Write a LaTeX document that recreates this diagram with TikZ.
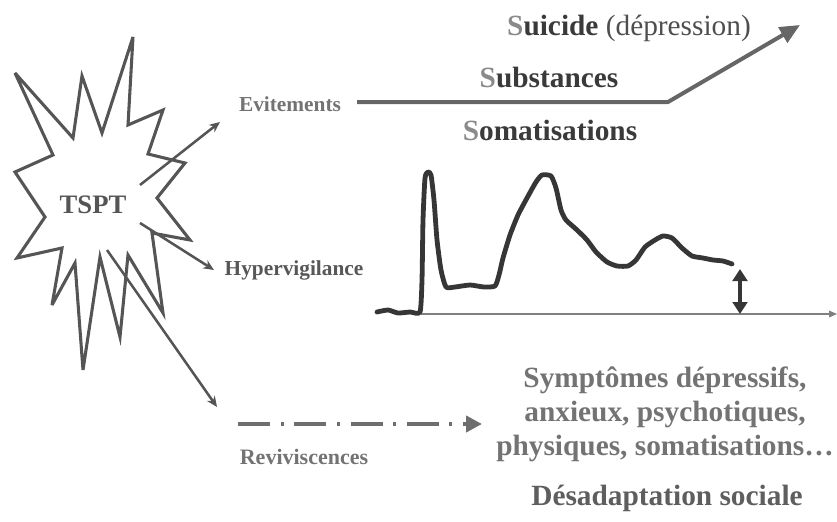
\documentclass[tikz,border=0pt]{standalone}
\usepackage{fontspec}
\setmainfont{Liberation Serif}
\usetikzlibrary{arrows.meta}

\definecolor{trait}{HTML}{555555}
\definecolor{courbe}{HTML}{363636}
\definecolor{txtfonce}{HTML}{3A3A3A}
\definecolor{txtgris}{HTML}{5E5E5E}
\definecolor{txtclair}{HTML}{737373}
\definecolor{sclair}{HTML}{8A8A8A}

\tikzset{
  burst/.style={draw=trait, line width=2.3pt, line join=miter, miter limit=6},
  fleche/.style={draw=trait, line width=1.9pt, -{Stealth[length=8pt,width=7pt]}},
  grosse/.style={draw=trait!90!white, line width=3pt, line join=round, -{Triangle[length=15pt,width=13pt]}},
  tiret/.style={draw=trait!85!white, line width=3pt, dash pattern=on 24pt off 8pt on 2.2pt off 8pt, -{Triangle[length=12pt,width=12pt]}},
  axe/.style={draw=gray, line width=0.8pt, -{Triangle[length=6pt,width=5pt]}},
  dbl/.style={draw=courbe, line width=2.3pt, {Triangle[length=9pt,width=11pt]}-{Triangle[length=9pt,width=11pt]}},
  lbl/.style={inner sep=0pt, text=txtgris, font=\fontsize{16}{19}\selectfont\bfseries},
  gros/.style={inner sep=0pt, text=txtfonce, font=\fontsize{22}{26}\selectfont\bfseries},
}

\begin{document}
\begin{tikzpicture}[x=0.75pt,y=-0.75pt]
  \useasboundingbox (0,0) rectangle (837,521);

  % explosion
  \draw[burst] (15,73) -- (73,138) -- (82,76) -- (102,133) -- (133,37) -- (128,125)
    -- (163,110) -- (148,154) -- (185,163) -- (157,198) -- (190,240) -- (152,233)
    -- (163,313) -- (128,255) -- (120,337) -- (100,257) -- (83,370) -- (75,263)
    -- (52,305) -- (62,248) -- (17,258) -- (45,217) -- (15,172) -- (53,155) -- cycle;
  \node (tspt) at (93,205) [inner sep=0pt, text=trait, font=\fontsize{20}{24}\selectfont\bfseries] {TSPT};

  % libelles
  \node[lbl, text=txtclair] (evit) at (290,104) {Evitements};
  \node[lbl, text=txtfonce!85!white] (hyper) at (294,270) {Hypervigilance};
  \node[lbl, text=txtclair, font=\fontsize{16.5}{19}\selectfont\bfseries] (revi) at (304,457) {Reviviscences};

  % fleches depuis TSPT
  \coordinate (de) at (140,185);
  \coordinate (dh) at (140,223);
  \coordinate (dr) at (107,250);
  \coordinate (fe) at (220,122);
  \coordinate (fh) at (214,270);
  \coordinate (fr) at (217,407);
  \draw[fleche] (de) -- (fe);
  \draw[fleche] (dh) -- (fh);
  \draw[fleche] (dr) -- (fr);

  % evitements -> suicide
  \coordinate (ev1) at (357,102);
  \coordinate (ev2) at (668,102);
  \coordinate (ev3) at (800,25);
  \draw[grosse] (ev1) -- (ev2) -- (ev3);
  \node[gros] (sui) at (629,28) {\textcolor{sclair}{S}uicide {\mdseries\color{txtfonce!90!white}(dépression)}};
  \node[gros] (subs) at (549,78) {\textcolor{sclair}{S}ubstances};
  \node[gros] (soma) at (550,130) {\textcolor{sclair}{S}omatisations};

  % courbe
  \coordinate (ax0) at (421,314);
  \coordinate (ax1) at (837,314);
  \draw[axe] (ax0) -- (ax1);
  \draw[courbe, line width=3.6pt, line join=round, line cap=round]
    plot[smooth, tension=0.35] coordinates {
      (377,312) (388,310) (398,313) (410,312) (420,312) (422,280) (423,220)
      (425,178) (428,172) (431,175) (434,200) (437,240) (441,270) (446,287)
      (455,287) (470,285) (484,287) (495,286) (499,275) (503,258) (510,235)
      (518,215) (527,198) (536,182) (542,175) (551,176) (556,188) (561,210)
      (566,220) (577,230) (587,240) (596,252) (607,262) (617,266) (628,266)
      (636,260) (645,247) (655,240) (663,236) (672,238) (682,248) (692,256)
      (703,258) (713,260) (723,261) (732,264)};
  \coordinate (d1) at (740,269);
  \coordinate (d2) at (740,314);
  \draw[dbl] (d1) -- (d2);

  % reviviscences
  \coordinate (rv1) at (238,424);
  \coordinate (rv2) at (482,424);
  \draw[tiret] (rv1) -- (rv2);

  % symptomes
  \node[gros, text=txtclair, align=center, font=\fontsize{22}{25.5}\selectfont\bfseries] (sympt) at (665,414)
    {Symptômes dépressifs,\\anxieux, psychotiques,\\physiques, somatisations…};
  \node[gros, text=txtgris] (desad) at (667,498) {Désadaptation sociale};
\end{tikzpicture}
\end{document}
